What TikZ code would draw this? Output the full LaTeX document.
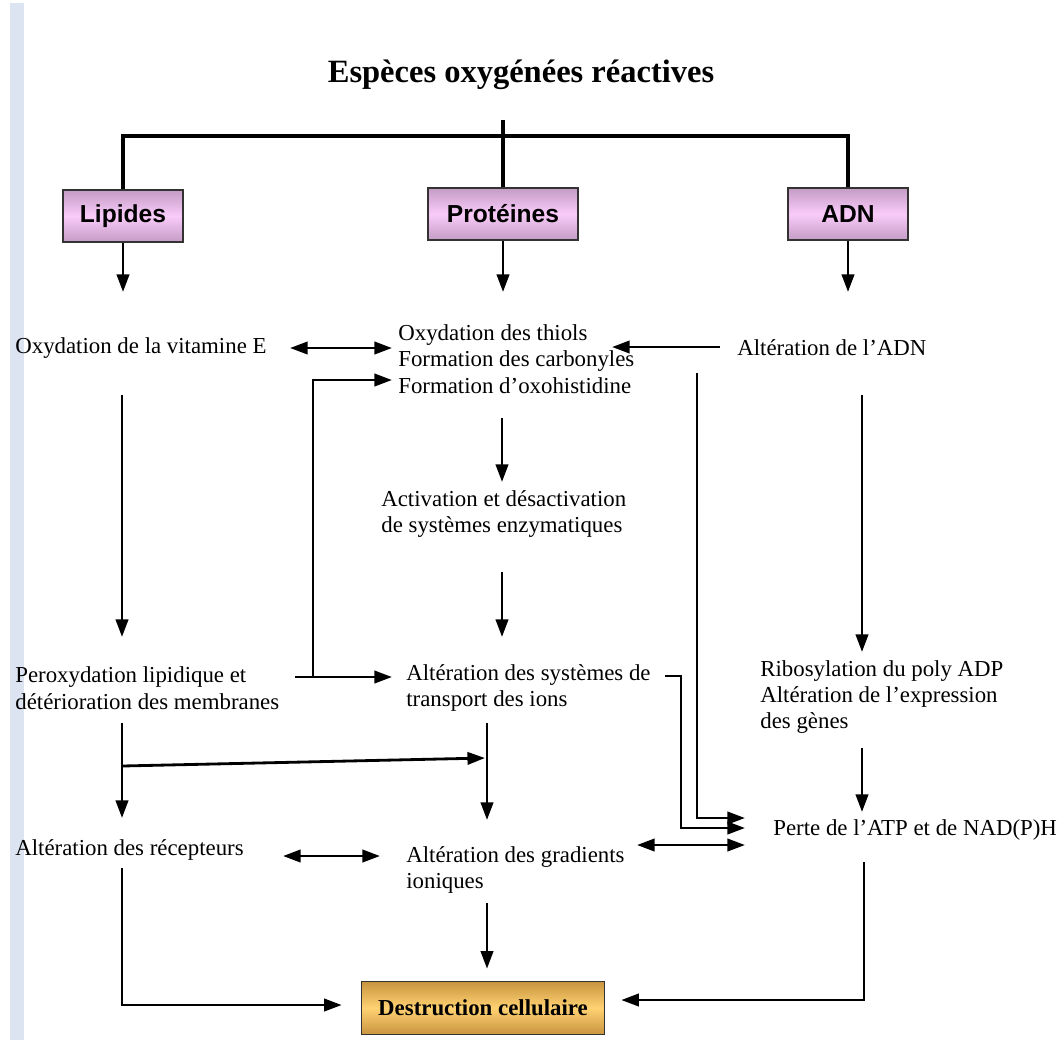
\documentclass[tikz,border=0pt]{standalone}
\usepackage{fontspec}
\setmainfont{Liberation Serif}
\setsansfont{Liberation Sans}
\usetikzlibrary{arrows.meta,calc}
\definecolor{rose}{HTML}{F9CBF9}
\definecolor{mauve}{HTML}{C49CC4}
\definecolor{orclair}{HTML}{FFD272}
\definecolor{bronze}{HTML}{C9943F}
\definecolor{barre}{HTML}{DCE4F2}
\tikzset{
  txt/.style={anchor=west,inner sep=0pt,align=left,font=\fontsize{13}{15}\selectfont},
  boite/.style={draw=black!80,line width=0.9pt,top color=mauve,bottom color=mauve,middle color=rose,
    minimum height=1.04cm,font=\sffamily\bfseries\fontsize{14}{16}\selectfont},
  fl/.style={-{Triangle[length=10pt,width=7pt]},line width=1.6pt},
  fldb/.style={{Triangle[length=10pt,width=7pt]}-{Triangle[length=10pt,width=7pt]},line width=1.6pt},
  arbre/.style={line width=2.2pt}
}
\begin{document}
\begin{tikzpicture}[x=0.02cm,y=-0.02cm]
  \useasboundingbox (0,0) rectangle (1064,1042);
  \fill[barre] (10,3) rectangle (24,1040);
  % titre et les trois cibles
  \node[font=\bfseries\fontsize{18.5}{20}\selectfont] (titre) at (521,75) {Espèces oxygénées réactives};
  \node[boite,minimum width=2.4cm] (lip) at (123,216) {Lipides};
  \node[boite,minimum width=3cm] (prot) at (503,214) {Protéines};
  \node[boite,minimum width=2.4cm] (adn) at (848,214) {ADN};
  % textes
  \node[txt] (vitE) at (15,348) {Oxydation de la vitamine E};
  \node[txt] (thiol) at (398,359) {Oxydation des thiols\\Formation des carbonyles\\Formation d’oxohistidine};
  \node[txt] (altADN) at (737,348) {Altération de l’ADN};
  \node[txt] (enz) at (381,514) {Activation et désactivation\\de systèmes enzymatiques};
  \node[txt] (perox) at (15,688) {Peroxydation lipidique et\\détérioration des membranes};
  \node[txt] (transp) at (406,688) {Altération des systèmes de\\transport des ions};
  \node[txt] (ribo) at (760,697) {Ribosylation du poly ADP\\Altération de l’expression\\des gènes};
  \node[txt] (recep) at (15,850) {Altération des récepteurs};
  \node[txt] (grad) at (406,870) {Altération des gradients\\ioniques};
  \node[txt] (perte) at (773,830) {Perte de l’ATP et de NAD(P)H};
  \node[draw=black!80,line width=0.9pt,top color=bronze,bottom color=bronze,middle color=orclair,
    minimum width=4.86cm,minimum height=1.06cm,font=\bfseries\fontsize{13}{15}\selectfont] (destr) at (483,1008) {Destruction cellulaire};
  % arbre du haut
  \draw[arbre] (prot.north) -- ($(prot.north |- titre.center)+(0,45)$);
  \draw[arbre] (lip.north) |- ($(prot.north)+(0,-51)$) -| (adn.north);
  \draw[fl] (lip.south) -- ($(lip.south |- vitE.west)+(0,-56)$);
  \draw[fl] (prot.south) -- ($(prot.south |- thiol.west)+(0,-67)$);
  \draw[fl] (adn.south) -- ($(adn.south |- altADN.west)+(0,-56)$);
  % liaisons
  \draw[fldb] ($(vitE.west)+(275,0)$) -- ($(thiol.west)+(-6,-11)$);
  \draw[fl] ($(altADN.west)+(-17,-1)$) -- ($(thiol.west)+(214,-12)$);
  \draw[fl] ($(perox.west)+(298,-11)$) |- ($(thiol.west)+(-6,21)$);
  \draw[fl] ($(perox.west)+(280,-11)$) -- ($(transp.west)+(-14,-11)$);
  \draw[fl] ($(vitE.west)+(107,47)$) -- ($(perox.west)+(107,-51)$);
  \draw[fl] ($(thiol.west)+(104,59)$) -- ($(enz.west)+(121,-32)$);
  \draw[fl] ($(enz.west)+(121,58)$) -- ($(transp.west)+(96,-51)$);
  \draw[fl] ($(altADN.west)+(125,47)$) -- ($(ribo.west)+(102,-45)$);
  \draw[fl] ($(ribo.west)+(102,51)$) -- ($(perte.west)+(89,-18)$);
  \draw[fl] ($(perox.west)+(107,35)$) -- ($(recep.west)+(107,-32)$);
  \draw[fl] ($(perox.west)+(107,78)$) -- ($(transp.west)+(79,70)$);
  \draw[fl] ($(transp.west)+(81,35)$) -- ($(grad.west)+(81,-50)$);
  \draw[fldb] ($(recep.west)+(268,6)$) -- ($(grad.west)+(-26,-14)$);
  \draw[fldb] ($(grad.west)+(231,-25)$) -- ($(perte.west)+(-28,15)$);
  \draw[fl] ($(transp.west)+(259,-12)$) -| ($(perte.west)+(-92,-2)$) -- ($(perte.west)+(-28,-2)$);
  \draw[fl] ($(altADN.west)+(-40,25)$) |- ($(perte.west)+(-28,-12)$);
  % vers la destruction
  \draw[fl] ($(grad.west)+(81,33)$) -- ($(destr.north)+(4,-12)$);
  \draw[fl] ($(recep.west)+(107,18)$) |- ($(destr.west)+(-19,-3)$);
  \draw[fl] ($(perte.west)+(91,32)$) |- ($(destr.east)+(16,-8)$);
\end{tikzpicture}
\end{document}
